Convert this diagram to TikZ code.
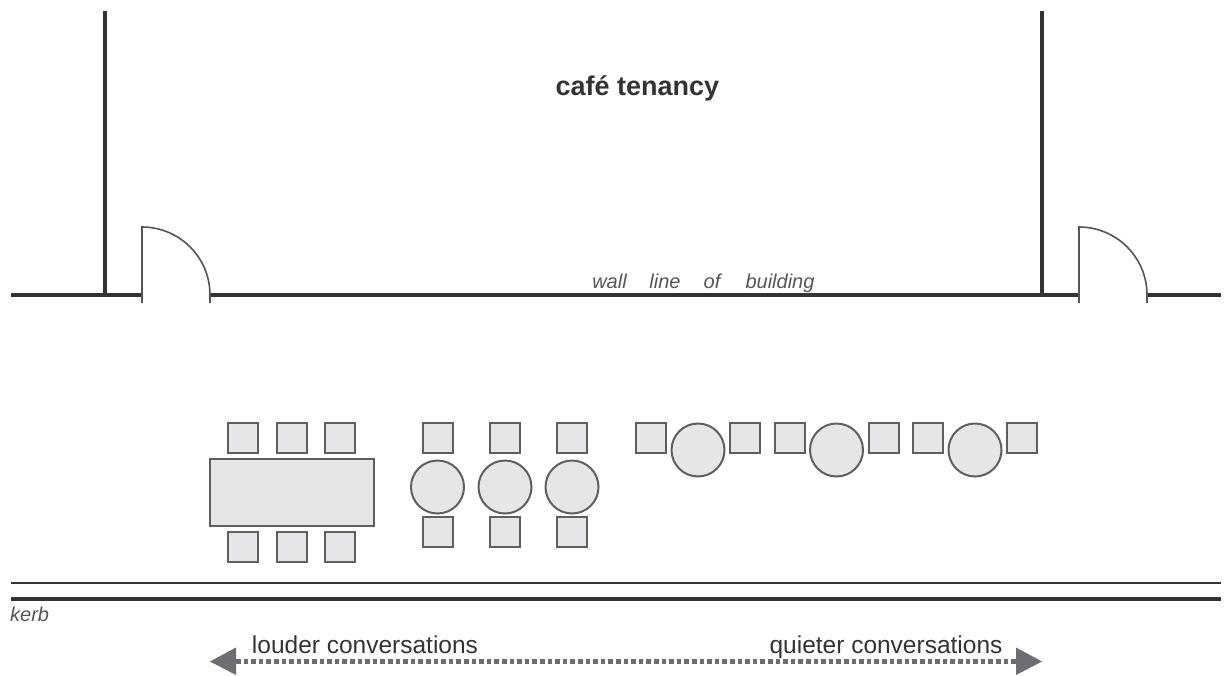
\documentclass[tikz,border=0pt]{standalone}
\usepackage{fontspec}
\setmainfont{Liberation Sans}
\usetikzlibrary{arrows.meta}
\definecolor{wallc}{HTML}{333335}
\definecolor{doorc}{HTML}{55555A}
\definecolor{furn}{HTML}{E6E6E8}
\definecolor{furnl}{HTML}{5F5F62}
\definecolor{arrowc}{HTML}{6D6E71}
\tikzset{
 x=1pt,y=-1pt,
 wall/.style={draw=wallc,line width=3.6pt},
 door/.style={draw=doorc,line width=1.6pt},
 seat/.style={rectangle,draw=furnl,fill=furn,line width=2pt,minimum size=30pt,inner sep=0pt},
 rtable/.style={circle,draw=furnl,fill=furn,line width=2pt,minimum size=53pt,inner sep=0pt},
 longtable/.style={rectangle,draw=furnl,fill=furn,line width=2pt,minimum width=164pt,minimum height=67pt,inner sep=0pt},
 note/.style={font=\itshape\fontsize{20}{24}\selectfont,text=doorc,inner sep=0pt,anchor=base},
 big/.style={font=\fontsize{24.5}{28}\selectfont,text=wallc,inner sep=0pt},
}
\begin{document}
\begin{tikzpicture}
\useasboundingbox (0,0) rectangle (1229,675);
% walls
\draw[wall] (105,11) -- (105,295);
\draw[wall] (1042,11) -- (1042,295);
\draw[wall] (11,295) -- (142,295);
\draw[wall] (210,295) -- (1079,295);
\draw[wall] (1147,295) -- (1221,295);
% doors
\draw[door] (142,303) -- (142,227) arc[start angle=-90,end angle=0,radius=68] -- (210,303);
\draw[door] (1079,303) -- (1079,227) arc[start angle=-90,end angle=0,radius=68] -- (1147,303);
% kerb
\draw[draw=wallc,line width=1.3pt] (11,583) -- (1221,583);
\draw[wall] (11,599) -- (1221,599);
% labels
\node[font=\bfseries\fontsize{27}{30}\selectfont,text=wallc,inner sep=0pt,anchor=base] (title) at (637.5,95) {café tenancy};
\node[note] (wl1) at (609.5,288) {wall};
\node[note] (wl2) at (665,288) {line};
\node[note] (wl3) at (712,288) {of};
\node[note] (wl4) at (780,288) {building};
\node[note,anchor=base west] (kerb) at (10,621) {kerb};
% long table
\node[longtable] (lt) at (291.5,492.5) {};
\foreach \n/\x in {a/243,b/292,c/340}{
 \node[seat] (t\n) at (\x,438) {};
 \node[seat] (b\n) at (\x,546.5) {};
}
% round tables, vertical
\foreach \n/\x in {d/437.5,e/505,f/572}{
 \node[rtable] (r\n) at (\x,487) {};
 \node[seat] (t\n) at (\x,438) {};
 \node[seat] (b\n) at (\x,532) {};
}
% round tables, horizontal
\foreach \n/\x in {g/698,h/836.5,i/975}{
 \node[rtable] (r\n) at (\x,450) {};
 \node[seat] (l\n) at (\x-47,438) {};
 \node[seat] (m\n) at (\x+47,438) {};
}
% arrow
\coordinate (al) at (210,661.5);
\coordinate (ar) at (1042,661.5);
\draw[draw=arrowc,line width=5pt,dash pattern=on 4.5pt off 3.1pt] (236,661.5) -- (1016,661.5);
\fill[arrowc] (al) -- (236,647.5) -- (236,675) -- cycle;
\fill[arrowc] (ar) -- (1016,647.5) -- (1016,675) -- cycle;
\node[big,anchor=base] (lo) at (365,653) {louder conversations};
\node[big,anchor=base] (qu) at (886,653) {quieter conversations};
\end{tikzpicture}
\end{document}
